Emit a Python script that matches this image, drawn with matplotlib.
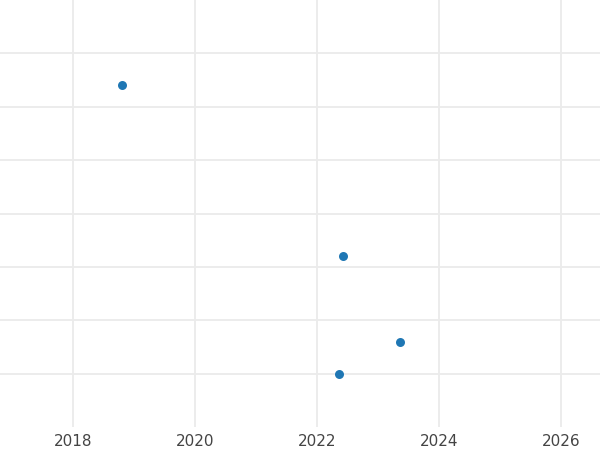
import numpy as np
import matplotlib
matplotlib.use("Agg")
import matplotlib.pyplot as plt

years = [2018.80, 2022.43, 2023.36, 2022.36]
values = [5.41, 2.21, 0.60, 0.00]

fig = plt.figure(figsize=(6, 4.5), dpi=100)
ax = fig.add_axes([0, 0.051, 1, 0.949])

ax.scatter(years, values, s=42, color="#1f77b4", zorder=3, linewidths=0)

ax.set_xlim(2016.80, 2026.64)
ax.set_ylim(-1, 7)
ax.set_xticks([2018, 2020, 2022, 2024, 2026])
ax.set_yticks(np.arange(0, 7))
ax.set_yticklabels([])
ax.grid(True, color="#ebebeb", linewidth=1.3)
ax.set_axisbelow(True)
ax.tick_params(axis="both", length=0, labelsize=11, labelcolor="#444444", pad=5)
for s in ax.spines.values():
    s.set_visible(False)

fig.savefig("out.png", dpi=100)
